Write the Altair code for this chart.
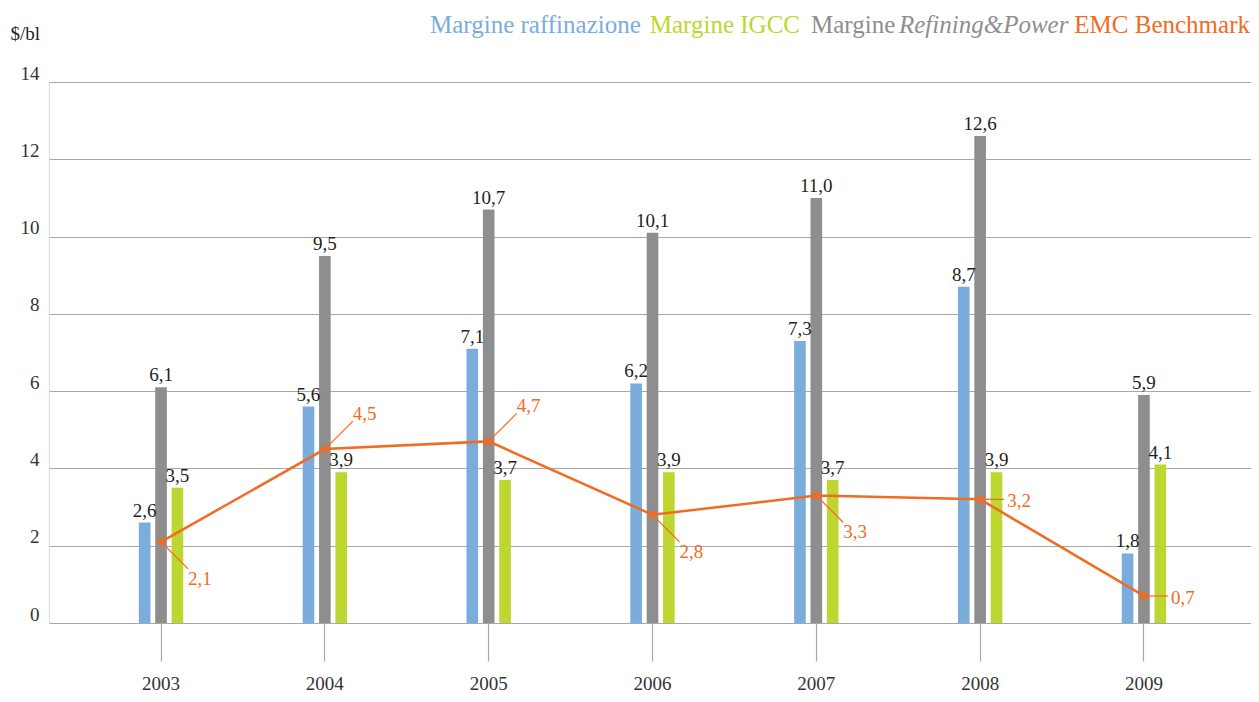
import altair as alt
import pandas as pd

years = ["2003", "2004", "2005", "2006", "2007", "2008", "2009"]
margine_raffinazione = [2.6, 5.6, 7.1, 6.2, 7.3, 8.7, 1.8]
margine_rp = [6.1, 9.5, 10.7, 10.1, 11.0, 12.6, 5.9]
margine_igcc = [3.5, 3.9, 3.7, 3.9, 3.7, 3.9, 4.1]
emc_benchmark = [2.1, 4.5, 4.7, 2.8, 3.3, 3.2, 0.7]
y_ticks = [0, 2, 4, 6, 8, 10, 12, 14]

series_order = ["Margine raffinazione", "Margine Refining&Power", "Margine IGCC"]
series_values = [margine_raffinazione, margine_rp, margine_igcc]
series_colors = ["#7aaddc", "#8f8e8e", "#bdd630"]
ORANGE = "#f26b22"
FONT = "Liberation Serif"
GRID = "#a8a8a8"

rows = []
for name, vals in zip(series_order, series_values):
    for yr, v in zip(years, vals):
        rows.append({"year": yr, "series": name, "value": v})
bars_df = pd.DataFrame(rows)
emc_df = pd.DataFrame({"year": years, "value": emc_benchmark})

label_expr = "replace(format(datum.value, '.1f'), '.', ',')"

X = alt.X(
    "year:N",
    title=None,
    scale=alt.Scale(paddingInner=0.7, paddingOuter=0.534, range=[0, 1207]),
    axis=alt.Axis(
        labelFontSize=19, labelColor="#333333", labelFont=FONT, labelAngle=0,
        tickSize=38, tickColor=GRID, tickWidth=1.2, domain=False, grid=False,
        labelPadding=13,
    ),
)
Y = alt.Y(
    "value:Q",
    title="$/bl",
    scale=alt.Scale(domain=[0, 14], nice=False),
    axis=alt.Axis(
        values=y_ticks, grid=True, gridColor=GRID, gridWidth=1.2, domain=False,
        ticks=False, labelPadding=10, labelFontSize=19, labelColor="#333333",
        labelFont=FONT, labelOffset=-3, labelBaseline="alphabetic",
        titleAngle=0, titleX=-39, titleY=-43, titleAlign="left",
        titleBaseline="alphabetic", titleFontWeight="normal", titleFontSize=19,
        titleColor="#222222", titleFont=FONT,
    ),
)
XO = alt.XOffset(
    "series:N", sort=series_order,
    scale=alt.Scale(domain=series_order, paddingInner=0.29, paddingOuter=0.145),
)

bars = alt.Chart(bars_df).mark_bar().encode(
    x=X, y=Y, xOffset=XO,
    color=alt.Color("series:N", scale=alt.Scale(domain=series_order, range=series_colors), legend=None),
)
bar_labels = alt.Chart(bars_df).transform_calculate(label=label_expr).mark_text(
    baseline="alphabetic", dy=-6, fontSize=19, font=FONT, color="#231f20"
).encode(x=X, y=Y, xOffset=XO, text="label:N")

line = alt.Chart(emc_df).mark_line(color=ORANGE, strokeWidth=2.5).encode(x=X, y=Y)
pts = alt.Chart(emc_df).mark_circle(color=ORANGE, size=55, opacity=1).encode(x=X, y=Y)

below = ["2003", "2006", "2007"]
above = ["2004", "2005"]
right = ["2008", "2009"]

def leader(sel, dx, dy):
    return alt.Chart(emc_df).transform_filter(
        alt.FieldOneOfPredicate(field="year", oneOf=sel)
    ).mark_rule(color=ORANGE, strokeWidth=1.2, x2Offset=dx, y2Offset=dy).encode(
        x=X, y=Y, x2=alt.X2("year:N"), y2=alt.Y2("value:Q")
    )

def emc_label(sel, dx, dy):
    return alt.Chart(emc_df).transform_filter(
        alt.FieldOneOfPredicate(field="year", oneOf=sel)
    ).transform_calculate(label=label_expr).mark_text(
        align="left", baseline="alphabetic", dx=dx, dy=dy, fontSize=19,
        font=FONT, color=ORANGE
    ).encode(x=X, y=Y, text="label:N")

legend_y = -49
def legend_text(txt, xpos, color, align="left", style="normal"):
    return alt.Chart(pd.DataFrame({"t": [txt]})).mark_text(
        align=align, baseline="alphabetic", fontSize=25, font=FONT,
        color=color, fontStyle=style
    ).encode(x=alt.value(xpos), y=alt.value(legend_y), text="t:N")

legend = [
    legend_text("Margine raffinazione", 381, series_colors[0]),
    legend_text("Margine IGCC", 751, series_colors[2], align="right"),
    legend_text("Margine", 762, series_colors[1]),
    legend_text("Refining&Power", 850, series_colors[1], style="italic"),
    legend_text("EMC Benchmark", 1201, ORANGE, align="right"),
]

chart = alt.layer(
    bars, bar_labels,
    leader(below, 27, 27), leader(above, 28, -28), leader(right, 24, 0),
    line, pts,
    emc_label(below, 27, 43), emc_label(above, 28, -29), emc_label(right, 27, 8),
    *legend,
).properties(
    width=1202, height=541,
    padding={"left": 41, "top": 74, "right": 0, "bottom": 71},
    autosize=alt.AutoSizeParams(type="none"),
).configure_view(stroke=None).configure(font=FONT)

chart.save("out.html", embed_options={"renderer": "svg", "actions": False})
